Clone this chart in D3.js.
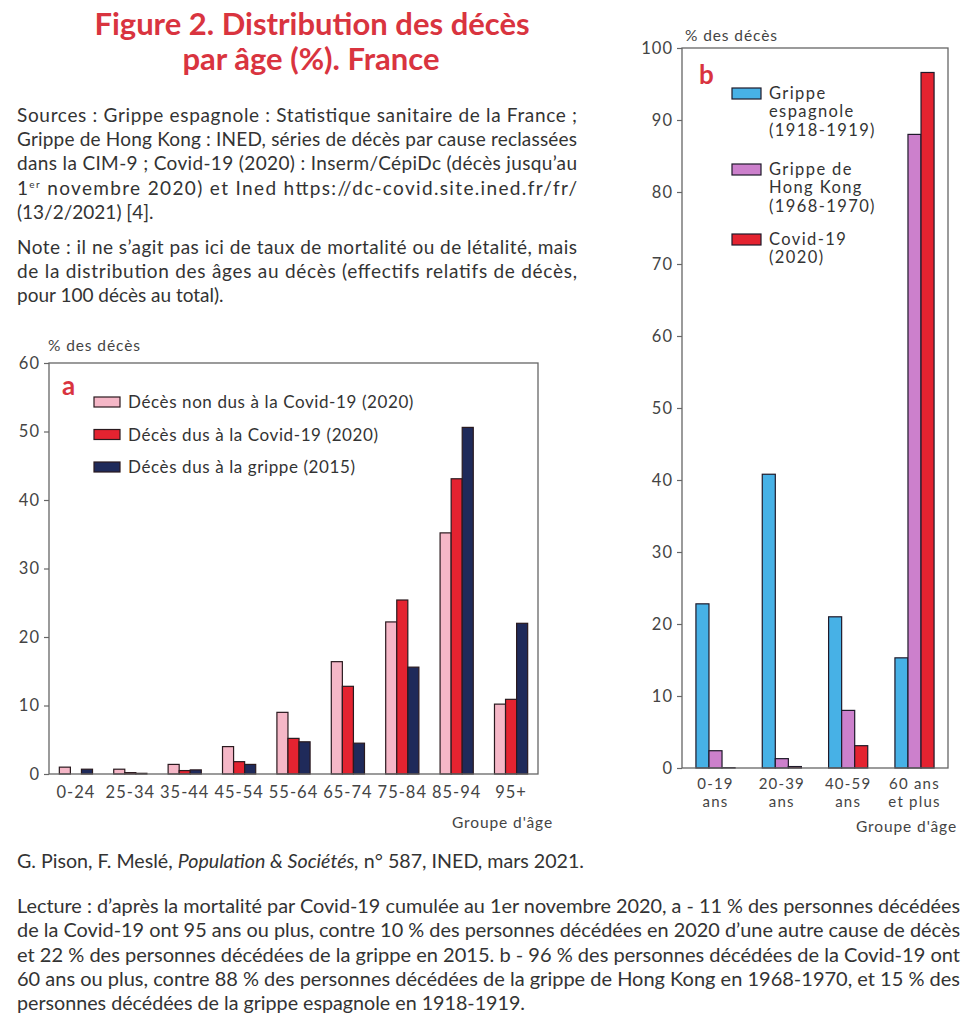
<!DOCTYPE html>
<html lang='fr'>
  <head>
    <meta charset='utf-8'>
    <style type='text/css'>
      body {margin: 0; background-color: #fff;}
      svg {display: block;}
      text {font-family: Lato, 'Noto Sans', sans-serif;}
    </style>
  </head>
  <body>
    <svg id='chart' width='978' height='1024'></svg>
    <script src='https://d3js.org/d3.v7.min.js'></script>
    <script type='text/javascript'>
        // ---- data : panel a (France, share of deaths by age, %)
        var groupsA = ["0-24", "25-34", "35-44", "45-54", "55-64", "65-74", "75-84", "85-94", "95+"];
        var nonCovid2020 = [1.0, 0.7, 1.4, 4.0, 9.0, 16.4, 22.2, 35.2, 10.2];
        var covid2020    = [0.0, 0.2, 0.5, 1.8, 5.2, 12.8, 25.4, 43.1, 10.9];
        var grippe2015   = [0.7, 0.1, 0.6, 1.4, 4.7, 4.5, 15.6, 50.6, 22.0];
        var seriesA = ["Décès non dus à la Covid-19 (2020)", "Décès dus à la Covid-19 (2020)", "Décès dus à la grippe (2015)"];
        var ticksA = [0, 10, 20, 30, 40, 50, 60];

        // ---- data : panel b
        var groupsB = ["0-19 ans", "20-39 ans", "40-59 ans", "60 ans et plus"];
        var groupLinesB = [["0-19", "ans"], ["20-39", "ans"], ["40-59", "ans"], ["60 ans", "et plus"]];
        var espagnole = [22.8, 40.8, 21.0, 15.3];
        var hongKong  = [2.4, 1.3, 8.0, 88.0];
        var covidB    = [0.05, 0.2, 3.1, 96.6];
        var seriesB = [["Grippe", "espagnole", "(1918-1919)"], ["Grippe de", "Hong Kong", "(1968-1970)"], ["Covid-19", "(2020)"]];
        var ticksB = [0, 10, 20, 30, 40, 50, 60, 70, 80, 90, 100];

        var colorsA = ["#f5b7c7", "#e42330", "#1f2a5a"];
        var colorsB = ["#47b1e6", "#cc80cc", "#e42330"];
        var red = "#d9343f", ink = "#333", tickInk = "#444", frame = "#666";

        var svg = d3.select("#chart");
        svg.append("rect").attr("width", 978).attr("height", 1024).attr("fill", "#fff");

        // ---- title & notes
        svg.append("text").attr("x", 312).attr("y", 35).attr("text-anchor", "middle")
          .attr("font-size", 31).attr("font-weight", 700).attr("fill", red)
          .text("Figure 2. Distribution des décès");
        svg.append("text").attr("x", 311).attr("y", 70).attr("text-anchor", "middle")
          .attr("font-size", 31).attr("font-weight", 700).attr("fill", red)
          .text("par âge (%). France");

        // note lines : [text, baseline y, justified?]
        var notes = [
          ["Sources : Grippe espagnole : Statistique sanitaire de la France ;", 122, true],
          ["Grippe de Hong Kong : INED, séries de décès par cause reclassées", 146, true],
          ["dans la CIM-9 ; Covid-19 (2020) : Inserm/CépiDc (décès jusqu’au", 170, true],
          ["1er novembre 2020) et Ined https://dc-covid.site.ined.fr/fr/", 195, true],
          ["(13/2/2021) [4].", 219, false],
          ["Note : il ne s’agit pas ici de taux de mortalité ou de létalité, mais", 254, true],
          ["de la distribution des âges au décès (effectifs relatifs de décès,", 278, true],
          ["pour 100 décès au total).", 302, false]
        ];
        notes.forEach(function(n) {
          var t = svg.append("text").attr("x", 17).attr("y", n[1])
            .attr("font-size", 19).attr("fill", ink);
          if (n[0].indexOf("1er ") === 0) {
            t.append("tspan").text("1");
            t.append("tspan").attr("font-size", 10).attr("dy", -7).text("er");
            t.append("tspan").attr("dy", 7).text(n[0].slice(3));
          } else {
            t.text(n[0]);
          }
          if (n[2]) t.attr("textLength", 560).attr("lengthAdjust", "spacing");
        });

        var cite = svg.append("text").attr("x", 17).attr("y", 868).attr("font-size", 18.5).attr("fill", ink)
          .attr("textLength", 567).attr("lengthAdjust", "spacingAndGlyphs");
        cite.append("tspan").text("G. Pison, F. Meslé, ");
        cite.append("tspan").attr("font-style", "italic").text("Population & Sociétés,");
        cite.append("tspan").text(" n° 587, INED, mars 2021.");

        var lecture = [
          ["Lecture : d’après la mortalité par Covid-19 cumulée au 1er novembre 2020, a - 11 % des personnes décédées", 913, 943],
          ["de la Covid-19 ont 95 ans ou plus, contre 10 % des personnes décédées en 2020 d’une autre cause de décès", 937, 943],
          ["et 22 % des personnes décédées de la grippe en 2015. b - 96 % des personnes décédées de la Covid-19 ont", 962, 943],
          ["60 ans ou plus, contre 88 % des personnes décédées de la grippe de Hong Kong en 1968-1970, et 15 % des", 986, 943],
          ["personnes décédées de la grippe espagnole en 1918-1919.", 1010, 508]
        ];
        lecture.forEach(function(l) {
          svg.append("text").attr("x", 17).attr("y", l[1]).attr("font-size", 18.5).attr("fill", ink)
            .attr("textLength", l[2]).attr("lengthAdjust", "spacingAndGlyphs").text(l[0]);
        });

        // ---- helpers
        function drawFrame(x0, x1, y0, y1) {
          svg.append("rect").attr("x", x0).attr("y", y0).attr("width", x1 - x0).attr("height", y1 - y0)
            .attr("fill", "none").attr("stroke", frame).attr("stroke-width", 1.3);
        }
        function styleAxis(g) {
          g.select(".domain").remove();
          g.selectAll(".tick line").attr("stroke", frame).attr("stroke-width", 1.2);
          g.selectAll(".tick text").attr("fill", tickInk).attr("font-size", 16.5)
            .attr("letter-spacing", 1).attr("font-family", "Lato, 'Noto Sans', sans-serif");
        }
        function chartText(x, y, anchor, str) {
          return svg.append("text").attr("x", x).attr("y", y).attr("text-anchor", anchor)
            .attr("font-size", 15.5).attr("letter-spacing", 0.9).attr("fill", tickInk).text(str);
        }

        // ---- panel a
        var xA = d3.scaleBand().domain(groupsA).range([49, 538]).paddingInner(0.39).paddingOuter(0.19);
        var subA = d3.scaleBand().domain([0, 1, 2]).range([0, xA.bandwidth()]);
        var yA = d3.scaleLinear().domain([0, 60]).range([774, 363]);
        var valuesA = [nonCovid2020, covid2020, grippe2015];

        svg.append("g").attr("transform", "translate(49,0)")
          .call(d3.axisLeft(yA).tickValues(ticksA).tickSize(5).tickPadding(4))
          .call(styleAxis);
        svg.append("g").attr("transform", "translate(0,774)")
          .call(d3.axisBottom(xA).tickSize(0).tickPadding(12))
          .call(styleAxis);

        valuesA.forEach(function(vals, s) {
          svg.append("g").selectAll("rect").data(vals).enter().append("rect")
            .attr("x", function(d, i) { return xA(groupsA[i]) + subA(s); })
            .attr("width", subA.bandwidth())
            .attr("y", function(d) { return yA(d); })
            .attr("height", function(d) { return yA(0) - yA(d); })
            .attr("fill", colorsA[s]).attr("stroke", "#2a1a1f").attr("stroke-width", 1.2);
        });
        drawFrame(49, 538, 363, 774);

        chartText(48, 351, "start", "% des décès");
        chartText(553, 828, "end", "Groupe d'âge");
        svg.append("text").attr("x", 62).attr("y", 395).attr("font-size", 26).attr("font-weight", 700).attr("fill", red).text("a");

        var legA = svg.append("g").selectAll("g").data(seriesA).enter().append("g")
          .attr("transform", function(d, i) { return "translate(94," + (402 + i * 32.5) + ")"; });
        legA.append("rect").attr("x", 0).attr("y", -5).attr("width", 26).attr("height", 10)
          .attr("fill", function(d, i) { return colorsA[i]; }).attr("stroke", "#2a1a1f").attr("stroke-width", 1.2);
        legA.append("text").attr("x", 34).attr("y", 6).attr("font-size", 17).attr("letter-spacing", 0.6)
          .attr("fill", ink).text(function(d) { return d; });

        // ---- panel b
        var xB = d3.scaleBand().domain(groupsB).range([682, 948]).paddingInner(0.41).paddingOuter(0.21);
        var subB = d3.scaleBand().domain([0, 1, 2]).range([0, xB.bandwidth()]);
        var yB = d3.scaleLinear().domain([0, 100]).range([768, 48]);
        var valuesB = [espagnole, hongKong, covidB];

        svg.append("g").attr("transform", "translate(682,0)")
          .call(d3.axisLeft(yB).tickValues(ticksB).tickSize(5).tickPadding(4))
          .call(styleAxis);

        valuesB.forEach(function(vals, s) {
          svg.append("g").selectAll("rect").data(vals).enter().append("rect")
            .attr("x", function(d, i) { return xB(groupsB[i]) + subB(s); })
            .attr("width", subB.bandwidth())
            .attr("y", function(d) { return yB(d); })
            .attr("height", function(d) { return yB(0) - yB(d); })
            .attr("fill", colorsB[s]).attr("stroke", "#1f1a2a").attr("stroke-width", 1.2);
        });
        drawFrame(682, 948, 48, 768);

        // two-line group labels, one text per line
        groupsB.forEach(function(g, i) {
          var cx = xB(g) + xB.bandwidth() / 2;
          groupLinesB[i].forEach(function(line, k) {
            svg.append("text").attr("x", cx).attr("y", 789 + k * 18).attr("text-anchor", "middle")
              .attr("font-size", 15).attr("letter-spacing", 1.2).attr("fill", tickInk).text(line);
          });
        });

        chartText(685, 41, "start", "% des décès");
        chartText(957, 832, "end", "Groupe d'âge");
        svg.append("text").attr("x", 699).attr("y", 84).attr("font-size", 26).attr("font-weight", 700).attr("fill", red).text("b");

        var legTops = [88, 164, 234];
        var legB = svg.append("g").selectAll("g").data(seriesB).enter().append("g")
          .attr("transform", function(d, i) { return "translate(732," + legTops[i] + ")"; });
        legB.append("rect").attr("width", 29).attr("height", 11)
          .attr("fill", function(d, i) { return colorsB[i]; }).attr("stroke", "#1f1a2a").attr("stroke-width", 1.2);
        legB.each(function(d) {
          var g = d3.select(this);
          d.forEach(function(line, k) {
            g.append("text").attr("x", 37).attr("y", 11 + k * 18.3).attr("font-size", 16.5)
              .attr("letter-spacing", 1.4).attr("fill", ink).text(line);
          });
        });
    </script>
  </body>
</html>
